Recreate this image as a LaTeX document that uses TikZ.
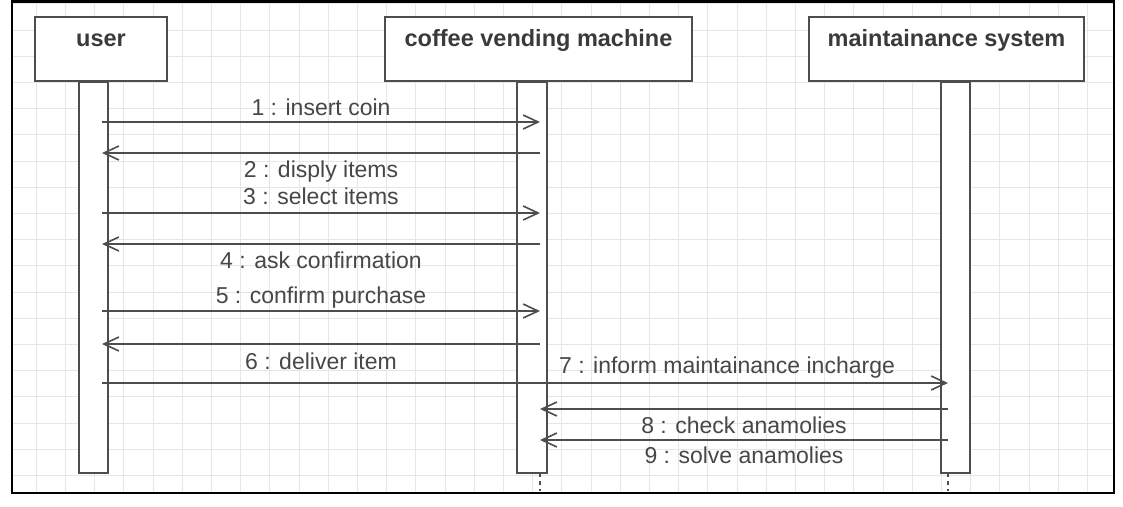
\documentclass[tikz,border=0pt]{standalone}
\usepackage{fontspec}
\setmainfont{Liberation Sans}
\usetikzlibrary{arrows.meta}
\definecolor{linec}{HTML}{4D4D4D}
\definecolor{txtc}{HTML}{3A3A3A}
\definecolor{lblc}{HTML}{474747}
\definecolor{gridc}{HTML}{E6E6E6}
\begin{document}
\begin{tikzpicture}[x=1pt,y=-1pt,
  head/.style={draw=linec, line width=2.2pt, fill=white, inner sep=0pt, outer sep=0pt},
  actbar/.style={draw=linec, line width=2pt, fill=white, inner sep=0pt, outer sep=0pt},
  msg/.style={draw=linec, line width=1.6pt, -{Straight Barb[length=15pt,width=14pt,line width=1.6pt]}},
  lbl/.style={anchor=base, inner sep=0pt, text=lblc, font=\fontsize{23}{27}\selectfont},
  ttl/.style={anchor=base, inner sep=0pt, text=txtc, font=\fontsize{23.5}{28}\selectfont\bfseries},
  tail/.style={draw=linec, line width=2pt, dash pattern=on 4pt off 4pt},
]
\useasboundingbox (0,0) rectangle (1123,506);
\fill[white] (0,0) rectangle (1123,506);
% grid
\begin{scope}
\clip (12,1) rectangle (1114,493);
\foreach \i in {0,...,38} \draw[gridc, line width=0.8pt] (7+29.2*\i,0) -- (7+29.2*\i,506);
\foreach \j in {-3,...,16} \draw[gridc, line width=0.8pt] (0,423-26.2*\j) -- (1123,423-26.2*\j);
\end{scope}
% frame
\draw[black, line width=2.4pt] (12,1.5) rectangle (1114,493);
% header boxes
\node[head, minimum width=132pt, minimum height=64pt] (u) at (101,49) {};
\node[head, minimum width=307pt, minimum height=64pt] (c) at (538.5,49) {};
\node[head, minimum width=275pt, minimum height=64pt] (m) at (946.5,49) {};
\node[ttl] (ut) at (101,46) {user};
\node[ttl] (ct) at (538.5,46) {coffee vending machine};
\node[ttl] (mt) at (946.5,46) {maintainance system};
% activation bars
\node[actbar, minimum width=29pt, minimum height=391pt] (ua) at (93.5,277.5) {};
\node[actbar, minimum width=30pt, minimum height=391pt] (ca) at (532,277.5) {};
\node[actbar, minimum width=29pt, minimum height=391pt] (ma) at (955.5,277.5) {};
% message end points
\coordinate (uX) at (102,0);
\coordinate (cX) at (540,0);
\coordinate (mX) at (948,0);
\coordinate (r1) at (0,122);
\coordinate (r2) at (0,153);
\coordinate (r3) at (0,213);
\coordinate (r4) at (0,244);
\coordinate (r5) at (0,311);
\coordinate (r6) at (0,344);
\coordinate (r7) at (0,383);
\coordinate (r8) at (0,409);
\coordinate (r9) at (0,440);
% tails
\draw[tail] (ca.south -| cX) -- ++(0,18);
\draw[tail] (ma.south -| mX) -- ++(0,18);
% messages
\draw[msg] (uX |- r1) -- (cX |- r1);
\draw[msg] (cX |- r2) -- (uX |- r2);
\draw[msg] (uX |- r3) -- (cX |- r3);
\draw[msg] (cX |- r4) -- (uX |- r4);
\draw[msg] (uX |- r5) -- (cX |- r5);
\draw[msg] (cX |- r6) -- (uX |- r6);
\draw[msg] (uX |- r7) -- (mX |- r7);
\draw[msg] (mX |- r8) -- (cX |- r8);
\draw[msg] (mX |- r9) -- (cX |- r9);
% labels
\node[lbl] (l1) at (321,115) {1 : insert coin};
\node[lbl] (l2) at (321,177) {2 : disply items};
\node[lbl] (l3) at (321,204) {3 : select items};
\node[lbl] (l4) at (321,268) {4 : ask confirmation};
\node[lbl] (l5) at (321,303) {5 : confirm purchase};
\node[lbl] (l6) at (321,369) {6 : deliver item};
\node[lbl] (l7) at (727,373) {7 : inform maintainance incharge};
\node[lbl] (l8) at (744,433) {8 : check anamolies};
\node[lbl] (l9) at (744,463) {9 : solve anamolies};
\end{tikzpicture}
\end{document}
